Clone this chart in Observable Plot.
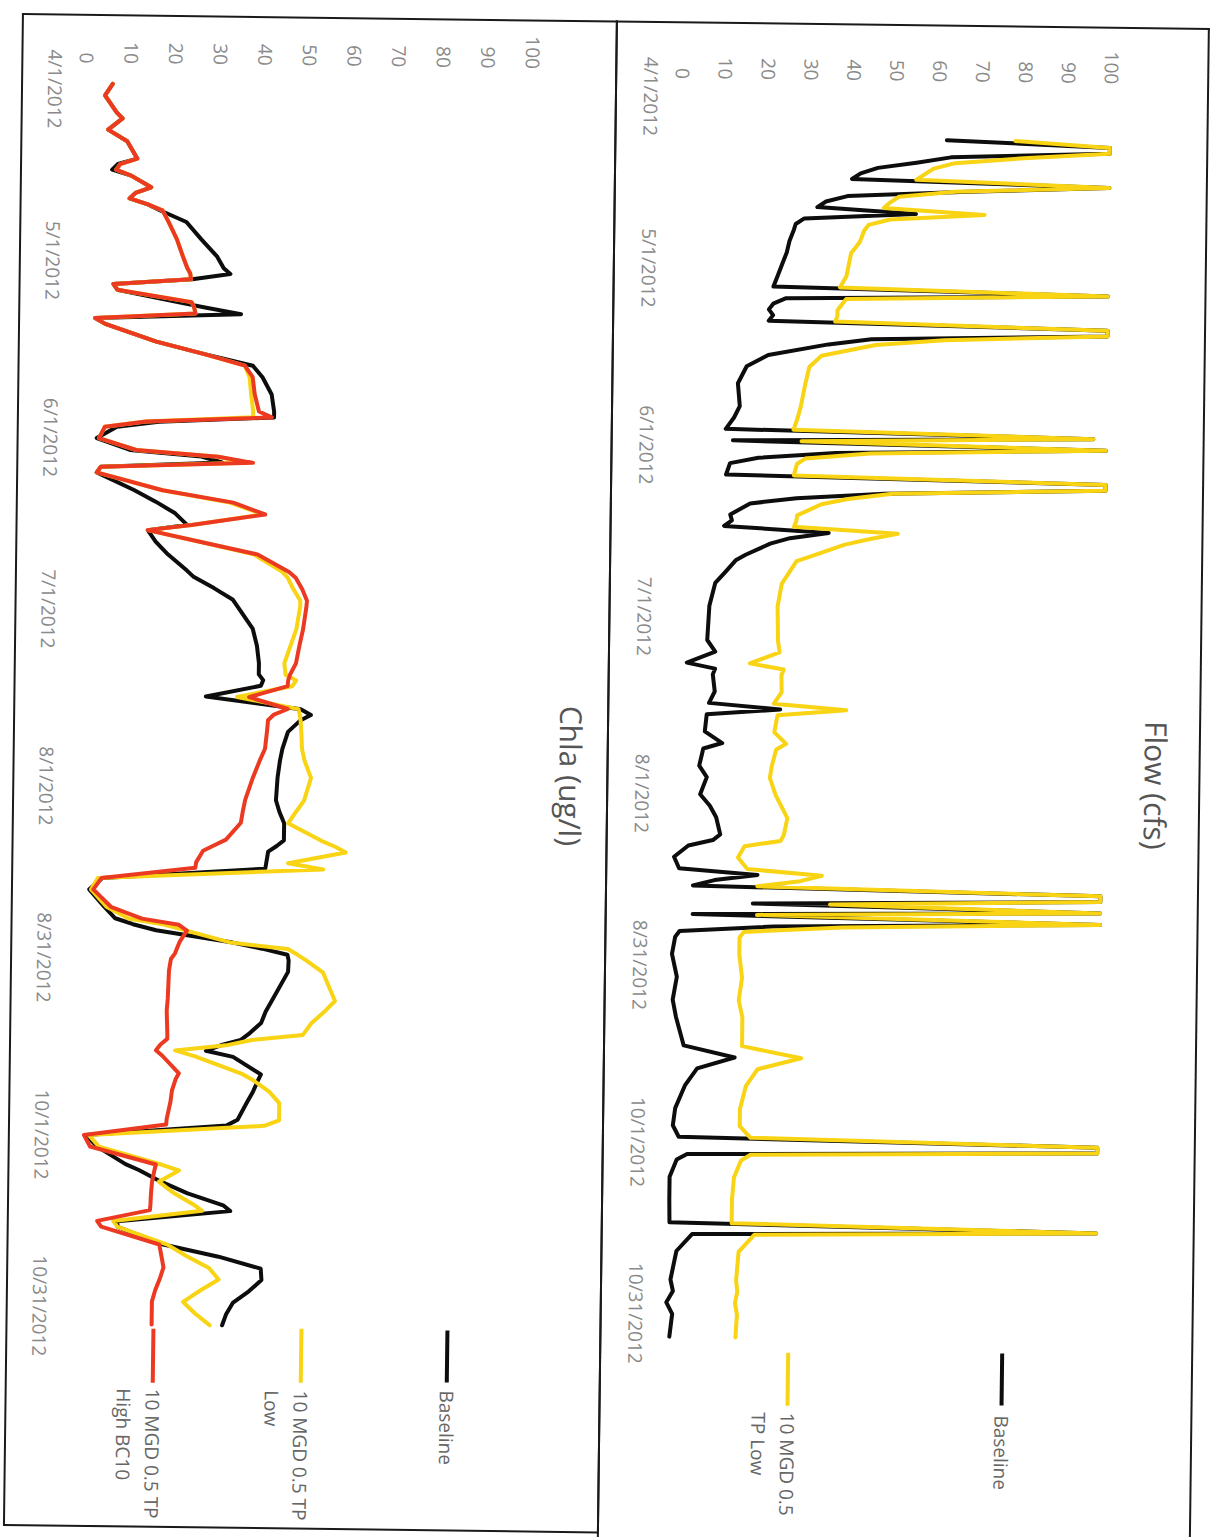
<!DOCTYPE html>
<html>
<head>
<meta charset="utf-8">
<script src="https://cdn.jsdelivr.net/npm/d3@7"></script>
<script src="https://cdn.jsdelivr.net/npm/@observablehq/plot@0.6"></script>
<style>
html, body { margin: 0; padding: 0; background: #fff; width: 1220px; height: 1537px; overflow: hidden; }
#page { position: absolute; left: -158.5px; top: 158.5px; width: 1537px; height: 1220px;
  transform-origin: 50% 50%; transform: rotate(90.72deg); font-family: "Open Sans", sans-serif; }
.box { position: absolute; box-sizing: border-box; border: 0 solid #1a1a1a; }
.title { position: absolute; font-size: 30px; color: #555; white-space: nowrap; transform: translate(-50%, -50%); line-height: 1; }
.legtext { position: absolute; font-size: 19px; line-height: 29px; color: #666; white-space: nowrap; }
.key { position: absolute; height: 4px; }
</style>
</head>
<body>
<div id="page"></div>
<script>
// ---------- axis ticks ----------
const tickDates = ["2012-04-01","2012-05-01","2012-06-01","2012-07-01","2012-08-01","2012-08-31","2012-10-01","2012-10-31"];
const tickLabels = ["4/1/2012","5/1/2012","6/1/2012","7/1/2012","8/1/2012","8/31/2012","10/1/2012","10/31/2012"];
const valueTicks = [0,10,20,30,40,50,60,70,80,90,100];

// ---------- Flow (cfs) ----------
const flowDates = [
  "2012-04-08","2012-04-09","2012-04-10","2012-04-11","2012-04-12","2012-04-13","2012-04-14","2012-04-15","2012-04-16","2012-04-17","2012-04-18","2012-04-19","2012-04-20","2012-04-21","2012-04-22","2012-04-23","2012-04-24","2012-04-26","2012-04-28","2012-04-30",
  "2012-05-02","2012-05-04","2012-05-05","2012-05-06","2012-05-07","2012-05-08","2012-05-09","2012-05-10","2012-05-11","2012-05-12","2012-05-13","2012-05-14","2012-05-16","2012-05-18","2012-05-21","2012-05-25","2012-05-27","2012-05-29","2012-05-30","2012-05-31",
  "2012-06-01","2012-06-02","2012-06-03","2012-06-04","2012-06-06","2012-06-07","2012-06-08","2012-06-09","2012-06-10","2012-06-11","2012-06-13","2012-06-14","2012-06-15","2012-06-16","2012-06-17","2012-06-18","2012-06-20","2012-06-21","2012-06-23","2012-06-25","2012-06-29",
  "2012-07-05","2012-07-07","2012-07-09","2012-07-10","2012-07-11","2012-07-14","2012-07-16","2012-07-17","2012-07-18","2012-07-21","2012-07-23","2012-07-24","2012-07-27","2012-07-29",
  "2012-08-01","2012-08-03","2012-08-05","2012-08-08","2012-08-09","2012-08-10","2012-08-12","2012-08-14","2012-08-15","2012-08-16","2012-08-17","2012-08-18","2012-08-19","2012-08-20","2012-08-21","2012-08-22","2012-08-23","2012-08-24","2012-08-25","2012-08-26","2012-08-29",
  "2012-09-02","2012-09-06","2012-09-09","2012-09-14","2012-09-16","2012-09-18","2012-09-21","2012-09-25","2012-09-28","2012-09-30",
  "2012-10-01","2012-10-02","2012-10-03","2012-10-04","2012-10-07","2012-10-11","2012-10-15","2012-10-16","2012-10-17","2012-10-20","2012-10-25","2012-10-27","2012-10-29","2012-10-31",
  "2012-11-04"
];
const flowBaseline = [
  62,100,100,63,55,46,42,40,100,67,39,34,32,55,29,27,26.6,25.6,25,24,
  23,22,100,25,22,21,22,21,100,100,45,35,21,16,14,14.5,13.2,11.3,97,13,
  100,37,19,12.4,11.5,100,100,48.5,28,17.2,12.6,13,11.2,35.6,26.6,22,16.3,14,11.7,9.3,8,
  7.6,9.5,2.9,9.5,9,9.5,8.2,24.8,7.7,7.3,11.4,7,6.1,7.9,
  6.4,8.7,10.2,11.2,9.5,3.8,0.5,1.7,20,10,5,100,100,19,100,5,100,24,2,1,0.3,
  1.5,0.6,1.4,3.3,15.2,6.5,3.7,1.5,1,2.4,
  100,100,4.4,2,0.4,0.4,0.5,100,5.8,2.2,0.9,1.5,0,1.4,
  0.8
];
const flowTPLow = [
  78,100,100,80,64,59,57,55,100,64,51,49,47.5,71,49,44,43,42,40,39.5,
  39,37.5,100,39,38,37,37,36.5,100,100,62,46,33.4,30.6,29.7,28.7,28,27.1,97,29,
  100,45,30,28,27.3,100,100,50.4,40,33.8,28.2,28,27.5,51.7,45,39.4,32,28.2,26.5,24.8,23.9,
  24.1,24.5,17.6,25.5,25,25.1,23.3,40.2,24.2,23.5,26.3,24,23,22.6,
  24,25.4,26.8,26,25.3,16.9,15.4,17.6,35,30,20,100,100,37,100,20,100,40,17,16,16,
  16.7,16,16.9,16.9,30.7,20.6,17.9,16.6,16.6,19.1,
  100,100,19.2,17,15.4,15,15,100,20.3,16.7,16.2,16.5,16,16.5,
  16.2
];

// ---------- Chla (ug/l) ----------
const chlaDates = [
  "2012-03-31",
  "2012-04-02","2012-04-05","2012-04-06","2012-04-08","2012-04-10","2012-04-13","2012-04-14","2012-04-15","2012-04-16","2012-04-18","2012-04-19","2012-04-20","2012-04-21","2012-04-22","2012-04-24","2012-04-27","2012-04-30",
  "2012-05-02","2012-05-03","2012-05-04","2012-05-05","2012-05-06","2012-05-08","2012-05-09","2012-05-10","2012-05-11","2012-05-12","2012-05-15","2012-05-17","2012-05-19","2012-05-21","2012-05-24","2012-05-27","2012-05-28","2012-05-29","2012-05-30",
  "2012-06-01","2012-06-03","2012-06-04","2012-06-05","2012-06-06","2012-06-07","2012-06-10","2012-06-12","2012-06-14","2012-06-16","2012-06-17","2012-06-19","2012-06-21","2012-06-24","2012-06-25","2012-06-27","2012-06-29","2012-06-30",
  "2012-07-04","2012-07-07","2012-07-10","2012-07-12","2012-07-13","2012-07-14","2012-07-16","2012-07-18","2012-07-19","2012-07-20","2012-07-22","2012-07-25","2012-07-27","2012-07-30",
  "2012-08-03","2012-08-05","2012-08-07","2012-08-10","2012-08-11","2012-08-12","2012-08-14","2012-08-15","2012-08-17","2012-08-19","2012-08-22","2012-08-24","2012-08-25","2012-08-26","2012-08-28","2012-08-29","2012-08-30","2012-08-31",
  "2012-09-02","2012-09-07","2012-09-09","2012-09-11","2012-09-13","2012-09-14","2012-09-15","2012-09-16","2012-09-17","2012-09-20","2012-09-21","2012-09-23","2012-09-25","2012-09-28","2012-09-29",
  "2012-10-01","2012-10-03","2012-10-06","2012-10-07","2012-10-09","2012-10-11","2012-10-13","2012-10-14","2012-10-16","2012-10-17","2012-10-20","2012-10-22","2012-10-24","2012-10-26","2012-10-28","2012-10-30",
  "2012-11-01","2012-11-03"
];
const chlaBaseline = [
  6.1,
  4.4,7.1,8.4,5.2,9.5,11.8,7.5,6.2,10.5,15,11.5,10.2,14.3,17,23,26.4,30,
  31.5,33,24.5,6.8,7.7,21,28,35.5,2.8,5.1,16.6,27,38.3,40.5,42.6,43.2,43.2,17.4,8,
  3.5,11,27,31.7,4.5,3.6,12,16.9,21.3,24,15.2,17,19.5,24.1,25.5,30.2,34.5,35.4,
  39,40,40.5,40.5,41.5,41,28.7,50,52.3,49.9,47.2,46,45.5,45,
  44.7,45.5,46.6,46.6,45,43.1,42.7,42.5,6,3.1,6.5,9,13,18.2,35.4,42,47.7,48,
  47.9,44.4,43,42,39.2,37.5,33,29.7,35.8,42.1,41.5,40.4,39,37,34.6,
  3.1,5.6,12,15,20,26,34,35.6,10.3,10.4,20.7,33.1,42.6,42.8,40,36.5,
  35,34.1
];
const chlaTPLow = [
  6.1,
  4.4,7.1,8.4,5.2,9.5,11.8,8,7.1,10.5,15,11.5,10.2,14.3,17.6,19,20.9,22.3,
  23.3,24,24.2,6.8,7.7,24.4,25,25.3,2.8,5.1,16.6,27,36.5,37.6,38,38.5,38.5,14.5,5.3,
  4,12.4,30.8,37,4.5,3.6,18.4,33.5,41,25,15.2,27.4,39,45.5,46.7,48,49.6,49.6,
  48.8,47.5,46.2,46.5,48.9,48,35.7,49.5,49.8,50,50.2,50.4,51,52.5,
  51,49.2,47.5,55,58.1,60.5,47.6,55.5,5,3.5,7,12,20,25,35,47.8,50,52,
  55.7,58.5,56,53.2,51.4,40,34.2,22.8,27.3,38,40.3,44,46.3,46.3,43,
  3.7,6,20,24,19.5,23,27.5,29.3,9.4,10.4,21.6,26,31,33.2,29,25.3,
  28,31.3
];
const chlaTPHigh = [
  6.1,
  4.4,7.1,8.4,5.2,9.5,11.8,8,7.1,10.5,15,11.5,10.2,14.3,17.6,19,20.9,22.3,
  23.3,24,24.2,6.8,7.7,24.4,25,25.3,2.8,5.1,16.6,27,36.5,38.3,38.8,39.8,42.7,14.5,5.3,
  4,12.4,30.8,38.6,4.5,3.6,18.4,34.3,41.5,25,15.2,27.4,39.8,47,48.5,50,51.1,51,
  50.3,49.5,48.8,47.5,47.1,47,38.4,47.1,44,42.7,42.5,42.1,41,39.5,
  37.8,37.3,36.9,33.6,31,28.5,27,26.8,5.8,4,8,15,23.3,25.1,23.5,23,22.5,21.6,
  21.2,21,20.8,20.9,21,21,19.5,18.5,20,23.7,23,22.2,21.9,21.1,21,
  2.6,4,18.8,18.5,18,17.8,17.7,17.6,5.8,6.7,19.8,20.3,20.8,20,19,18.3,
  18.3,18.3
];

// ---------- colours ----------
const colBaseline = "#0d0d0d";
const colTPLow = "#f8d414";
const colTPHigh = "#ec3a22";

const parse = s => new Date(s + "T00:00:00Z");
const labelMap = new Map(tickDates.map((d, i) => [+parse(d), tickLabels[i]]));
const rows = (dates, vals) => dates.map((d, i) => ({date: parse(d), value: vals[i]}));

function panel({height, y0, y100, yPad, series}) {
  return Plot.plot({
    width: 1537,
    height,
    marginLeft: 88, marginRight: 0, marginTop: y100, marginBottom: height - y0,
    style: {background: "transparent", fontFamily: "'Open Sans', sans-serif", fontSize: "19px", color: "#8a8a8a", overflow: "visible"},
    x: {type: "utc", domain: [parse("2012-04-01"), parse("2012-10-31")], range: [95, 1312]},
    y: {domain: [0, 100], range: [y0, y100]},
    marks: [
      Plot.axisX({ticks: tickDates.map(parse), tickFormat: d => labelMap.get(+d), tickSize: 0, tickPadding: 24, label: null}),
      Plot.axisY({ticks: valueTicks, tickSize: 0, tickPadding: yPad, label: null}),
      ...series.map(s => Plot.line(rows(s.dates, s.values), {
        x: "date", y: "value", stroke: s.color, strokeWidth: 4,
        strokeLinejoin: "round", strokeLinecap: "round"
      }))
    ]
  });
}

const page = document.getElementById("page");

function place(el, left, top) {
  el.style.position = "absolute";
  el.style.left = left + "px";
  el.style.top = top + "px";
  page.appendChild(el);
  return el;
}

// Flow chart
const flowSvg = panel({
  height: 593, y0: 527, y100: 98, yPad: 11,
  series: [
    {dates: flowDates, values: flowBaseline, color: colBaseline},
    {dates: flowDates, values: flowTPLow, color: colTPLow}
  ]
});
place(flowSvg, 0, 20);

// Chla chart
const chlaSvg = panel({
  height: 594, y0: 530, y100: 84, yPad: 19,
  series: [
    {dates: chlaDates, values: chlaBaseline, color: colBaseline},
    {dates: chlaDates, values: chlaTPLow, color: colTPLow},
    {dates: chlaDates, values: chlaTPHigh, color: colTPHigh}
  ]
});
place(chlaSvg, 0, 613);

// frames
function box(left, top, w, h, sides) {
  const d = document.createElement("div");
  d.className = "box";
  d.style.width = w + "px"; d.style.height = h + "px";
  for (const s of sides) d.style["border" + s + "Width"] = "2.5px";
  return place(d, left, top);
}
box(19.5, 20, 1600, 594, ["Top", "Left", "Bottom"]);
box(19.5, 612, 1513.5, 596, ["Top", "Left", "Bottom", "Right"]);

// titles
function title(text, cx, cy) {
  const d = document.createElement("div");
  d.className = "title";
  d.textContent = text;
  return place(d, cx, cy);
}
title("Flow (cfs)", 778, 65);
title("Chla (ug/l)", 776, 650);

// legends
function legend(color, u0, u1, v, textU, lines) {
  const k = document.createElement("div");
  k.className = "key";
  k.style.background = color;
  k.style.width = (u1 - u0) + "px";
  place(k, u0, v - 2);
  const t = document.createElement("div");
  t.className = "legtext";
  lines.forEach(ln => {
    const s = document.createElement("div");
    s.textContent = ln;
    t.appendChild(s);
  });
  place(t, textU, v - 14.5);
}
legend(colBaseline, 1348, 1400, 211, 1410, ["Baseline"]);
legend(colTPLow, 1350, 1403, 425, 1410, ["10 MGD 0.5", "TP Low"]);
legend(colBaseline, 1332, 1384, 766, 1392, ["Baseline"]);
legend(colTPLow, 1332, 1386, 912, 1394, ["10 MGD 0.5 TP", "Low"]);
legend(colTPHigh, 1334, 1388, 1060, 1394, ["10 MGD 0.5 TP", "High BC10"]);
</script>
</body>
</html>
